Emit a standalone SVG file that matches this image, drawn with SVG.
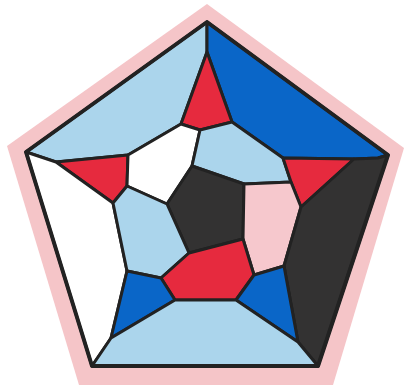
<svg xmlns="http://www.w3.org/2000/svg" width="406" height="387" viewBox="0 0 406 387">
<style>
.f{stroke:#222;stroke-width:3;stroke-linejoin:round}
.lb{fill:#abd5ec}
.db{fill:#0a66c8}
.rd{fill:#e62a3e}
.dk{fill:#333232}
.pk{fill:#f6c8cd}
.wh{fill:#ffffff}
</style>
<rect width="406" height="387" fill="#ffffff"/>
<polygon points="207,4 404,148 333,385 79,385 7,146" fill="#f5c5c8"/>
<polygon points="207,22 388,155 318,366 92,366 26,152" fill="#222"/>
<g id="regions">
<polygon class="f lb" points="26,152 207,22 207,52 181,124 128,155 56,162"/>
<polygon class="f db" points="207,22 388,155 378,158 354,159 283,158 232,122 207,52"/>
<polygon class="f rd" points="207,52 232,122 200,130 181,124"/>
<polygon class="f rd" points="56,162 128,155 127,186 113,203"/>
<polygon class="f wh" points="128,155 181,124 200,130 192,166 167,204 127,186"/>
<polygon class="f lb" points="200,130 232,122 283,158 291,182 244,184 192,166"/>
<polygon class="f rd" points="283,158 354,159 301,207 291,182"/>
<polygon class="f dk" points="192,166 244,184 243,239 189,253 167,204"/>
<polygon class="f pk" points="244,184 291,182 301,207 284,266 254,275 243,239"/>
<polygon class="f dk" points="378,158 388,155 318,366 298,342 284,266 301,207 354,159"/>
<polygon class="f wh" points="26,152 56,162 113,203 127,271 111,338 92,366"/>
<polygon class="f lb" points="113,203 127,186 167,204 189,253 161,278 127,271"/>
<polygon class="f rd" points="161,278 189,253 243,239 254,275 236,300 175,300"/>
<polygon class="f db" points="254,275 284,266 298,342 236,300"/>
<polygon class="f db" points="127,271 161,278 175,300 111,338"/>
<polygon class="f lb" points="111,338 175,300 236,300 298,342 318,366 92,366"/>
</g>
<polygon points="207,22 388,155 318,366 92,366 26,152" fill="none" stroke="#222" stroke-width="4" stroke-linejoin="round"/>
</svg>
